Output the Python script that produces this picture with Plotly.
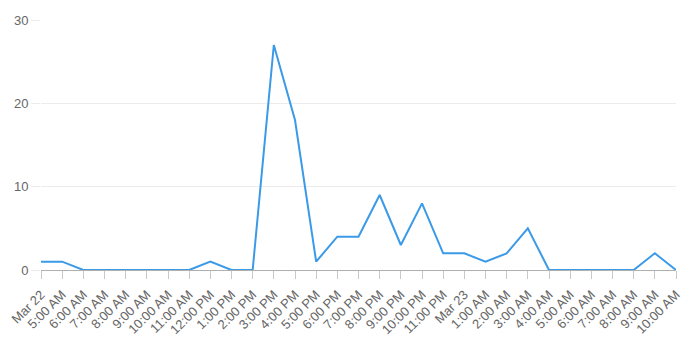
import plotly.graph_objects as go

labels = ["Mar 22", "5:00 AM", "6:00 AM", "7:00 AM", "8:00 AM", "9:00 AM", "10:00 AM",
          "11:00 AM", "12:00 PM", "1:00 PM", "2:00 PM", "3:00 PM", "4:00 PM", "5:00 PM",
          "6:00 PM", "7:00 PM", "8:00 PM", "9:00 PM", "10:00 PM", "11:00 PM", "Mar 23",
          "1:00 AM", "2:00 AM", "3:00 AM", "4:00 AM", "5:00 AM", "6:00 AM", "7:00 AM",
          "8:00 AM", "9:00 AM", "10:00 AM"]
values = [1, 1, 0, 0, 0, 0, 0, 0, 1, 0, 0, 27, 18, 1, 4, 4, 9, 3, 8, 2, 2,
          1, 2, 5, 0, 0, 0, 0, 0, 2, 0]
y_ticks = [0, 10, 20, 30]

idx = list(range(len(labels)))

fig = go.Figure(go.Scatter(
    x=idx, y=values, mode="lines",
    line=dict(color="#3b9ae8", width=2),
    hoverinfo="skip", cliponaxis=False,
))

fig.update_layout(
    width=683, height=350,
    margin=dict(l=41, r=7, t=20, b=80, autoexpand=False),
    paper_bgcolor="white", plot_bgcolor="white",
    showlegend=False,
    font=dict(family="Liberation Sans, Arial, sans-serif", size=12, color="#666"),
)
fig.update_xaxes(
    range=[0, len(labels) - 1], automargin=False,
    tickmode="array", tickvals=idx, ticktext=labels,
    tickangle=-45, showgrid=False, zeroline=False,
    showline=True, linecolor="#b0b0b0", linewidth=1,
    ticks="outside", ticklen=8, tickcolor="#c8c8c8",
    ticklabelstandoff=3,
    tickfont=dict(size=13, color="#666"),
)
fig.update_yaxes(
    range=[0, 30], tickvals=y_ticks, automargin=False,
    showgrid=True, gridcolor="#ececec", gridwidth=1,
    zeroline=False, showline=False,
    ticks="outside", ticklen=9, tickcolor="#ececec",
    tickfont=dict(size=13, color="#666"),
)

fig.write_html("out.html")
